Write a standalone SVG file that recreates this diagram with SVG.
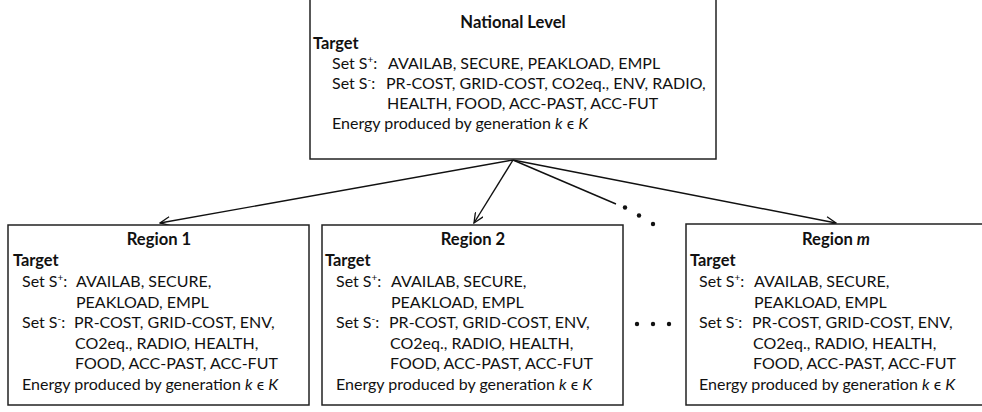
<svg xmlns="http://www.w3.org/2000/svg" width="982" height="412" viewBox="0 0 982 412">
  <defs>
    <marker id="arrow" viewBox="0 0 12 10" refX="11" refY="5" markerWidth="12" markerHeight="10" markerUnits="userSpaceOnUse" orient="auto">
      <path d="M1,0.5 L11,5 L1,9.5" fill="none" stroke="#111" stroke-width="1.3"/>
    </marker>
  </defs>
  <style>
    .box { fill: #fff; stroke: #222; stroke-width: 1.5; }
    text { font-family: Lato, "Open Sans", sans-serif; font-size: 16px; fill: #111; }
    .title { font-weight: bold; text-anchor: middle; font-size: 16.6px; }
    .bold { font-weight: bold; font-size: 16.4px; }
    .it { font-style: italic; }
    .sup { font-size: 10px; }
    .link { stroke: #111; stroke-width: 1.4; fill: none; }
    .dot { fill: #111; }
  </style>

  <!-- connectors from the national level down to the regions -->
  <g id="connectors">
    <line class="link" x1="513" y1="160" x2="160" y2="223" marker-end="url(#arrow)"/>
    <line class="link" x1="513" y1="160" x2="474" y2="223" marker-end="url(#arrow)"/>
    <line class="link" x1="513" y1="160" x2="836" y2="223" marker-end="url(#arrow)"/>
    <line class="link" x1="513" y1="160" x2="616" y2="204"/>
    <circle class="dot" cx="625" cy="207.5" r="2.2"/>
    <circle class="dot" cx="639" cy="215.5" r="2.2"/>
    <circle class="dot" cx="653" cy="224" r="2.2"/>
    <circle class="dot" cx="637" cy="324" r="2.2"/>
    <circle class="dot" cx="653" cy="324" r="2.2"/>
    <circle class="dot" cx="669" cy="324" r="2.2"/>
  </g>

  <!-- national level -->
  <g id="national">
    <rect class="box" x="310" y="-5" width="406" height="164"/>
    <text class="title" x="513" y="28">National Level</text>
    <text class="bold" x="313" y="49">Target</text>
    <text x="332" y="69">Set S<tspan class="sup" dy="-6">+</tspan><tspan dy="6">:</tspan></text>
    <text x="388" y="69">AVAILAB, SECURE, PEAKLOAD, EMPL</text>
    <text x="332" y="89">Set S<tspan class="sup" dy="-6">-</tspan><tspan dy="6">:</tspan></text>
    <text x="386" y="89">PR-COST, GRID-COST, CO2eq., ENV, RADIO,</text>
    <text x="387" y="109">HEALTH, FOOD, ACC-PAST, ACC-FUT</text>
    <text x="332" y="129">Energy produced by generation <tspan class="it">k</tspan> ϵ <tspan class="it">K</tspan></text>
  </g>

  <!-- region 1 -->
  <g id="region1">
    <rect class="box" x="8" y="225" width="301" height="180"/>
    <text class="title" x="159" y="245">Region 1</text>
    <text class="bold" x="13" y="266">Target</text>
    <text x="22" y="287">Set S<tspan class="sup" dy="-6">+</tspan><tspan dy="6">:</tspan></text>
    <text x="76" y="287">AVAILAB, SECURE,</text>
    <text x="76" y="307.5">PEAKLOAD, EMPL</text>
    <text x="22" y="328">Set S<tspan class="sup" dy="-6">-</tspan><tspan dy="6">:</tspan></text>
    <text x="74" y="328">PR-COST, GRID-COST, ENV,</text>
    <text x="75" y="348.5">CO2eq., RADIO, HEALTH,</text>
    <text x="75" y="369">FOOD, ACC-PAST, ACC-FUT</text>
    <text x="22" y="389.5">Energy produced by generation <tspan class="it">k</tspan> ϵ <tspan class="it">K</tspan></text>
  </g>

  <!-- region 2 -->
  <g id="region2">
    <rect class="box" x="322" y="225" width="301" height="180"/>
    <text class="title" x="473" y="245">Region 2</text>
    <text class="bold" x="325" y="266">Target</text>
    <text x="336" y="287">Set S<tspan class="sup" dy="-6">+</tspan><tspan dy="6">:</tspan></text>
    <text x="391" y="287">AVAILAB, SECURE,</text>
    <text x="391" y="307.5">PEAKLOAD, EMPL</text>
    <text x="336" y="328">Set S<tspan class="sup" dy="-6">-</tspan><tspan dy="6">:</tspan></text>
    <text x="389" y="328">PR-COST, GRID-COST, ENV,</text>
    <text x="390" y="348.5">CO2eq., RADIO, HEALTH,</text>
    <text x="390" y="369">FOOD, ACC-PAST, ACC-FUT</text>
    <text x="336" y="389.5">Energy produced by generation <tspan class="it">k</tspan> ϵ <tspan class="it">K</tspan></text>
  </g>

  <!-- region m -->
  <g id="regionM">
    <rect class="box" x="686" y="224" width="302" height="181"/>
    <text class="title" x="836" y="245">Region <tspan class="it">m</tspan></text>
    <text class="bold" x="690" y="266">Target</text>
    <text x="699" y="287">Set S<tspan class="sup" dy="-6">+</tspan><tspan dy="6">:</tspan></text>
    <text x="754" y="287">AVAILAB, SECURE,</text>
    <text x="754" y="307.5">PEAKLOAD, EMPL</text>
    <text x="699" y="328">Set S<tspan class="sup" dy="-6">-</tspan><tspan dy="6">:</tspan></text>
    <text x="752" y="328">PR-COST, GRID-COST, ENV,</text>
    <text x="753" y="348.5">CO2eq., RADIO, HEALTH,</text>
    <text x="753" y="369">FOOD, ACC-PAST, ACC-FUT</text>
    <text x="699" y="389.5">Energy produced by generation <tspan class="it">k</tspan> ϵ <tspan class="it">K</tspan></text>
  </g>
</svg>
